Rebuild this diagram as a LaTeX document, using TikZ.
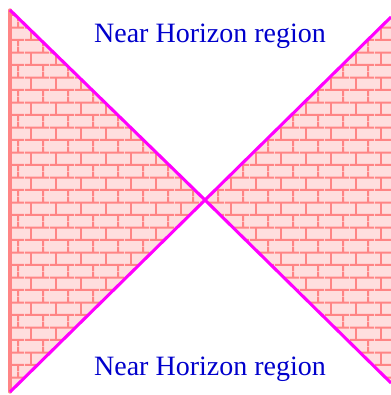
\documentclass[tikz,border=0pt]{standalone}
\usepackage{fontspec}
\setmainfont{Liberation Serif}
\usepackage{xcolor}
\usetikzlibrary{patterns}
\definecolor{brickfill}{HTML}{FFDEDE}
\definecolor{brickline}{HTML}{FF8585}
\definecolor{horizon}{HTML}{FF00FF}
\definecolor{labelblue}{HTML}{0000CC}
% brick wall, 18.75pt x 9.45pt bricks, half offset
\pgfdeclarepatternformonly{wallbricks}{\pgfpointorigin}{\pgfpoint{18.75pt}{18.9pt}}{\pgfpoint{18.75pt}{18.9pt}}
{
	\pgfsetlinewidth{1.4pt}
	\pgfpathmoveto{\pgfpoint{0pt}{4.725pt}}
	\pgfpathlineto{\pgfpoint{18.75pt}{4.725pt}}
	\pgfpathmoveto{\pgfpoint{0pt}{14.175pt}}
	\pgfpathlineto{\pgfpoint{18.75pt}{14.175pt}}
	\pgfpathmoveto{\pgfpoint{4.6875pt}{4.725pt}}
	\pgfpathlineto{\pgfpoint{4.6875pt}{14.175pt}}
	\pgfpathmoveto{\pgfpoint{14.0625pt}{14.175pt}}
	\pgfpathlineto{\pgfpoint{14.0625pt}{18.9pt}}
	\pgfpathmoveto{\pgfpoint{14.0625pt}{0pt}}
	\pgfpathlineto{\pgfpoint{14.0625pt}{4.725pt}}
	\pgfusepath{stroke}
}
\tikzset{
	wall/.style={fill=brickfill, pattern=wallbricks, pattern color=brickline},
	horizonline/.style={draw=horizon, line width=2.3pt},
	regionlabel/.style={text=labelblue, font=\fontsize{21}{24}\selectfont}
}

\begin{document}
\begin{tikzpicture}[x=0.75pt,y=0.75pt]
	\useasboundingbox (0,0) rectangle (391,395);
	\coordinate (topleft) at (10,385);
	\coordinate (botleft) at (10,3);
	\coordinate (mid) at (205,195);
	\coordinate (topright) at (391,378);
	\coordinate (botright) at (391,12);
	% walls
	\fill[brickfill] (topleft) -- (mid) -- (botleft) -- cycle;
	\fill[brickfill] (mid) -- (topright) -- (botright) -- cycle;
	\fill[wall] (topleft) -- (mid) -- (botleft) -- cycle;
	\fill[wall] (mid) -- (topright) -- (botright) -- cycle;
	\draw [brickline, line width=2.5pt, line cap=round] (topleft) -- (botleft);
	% horizons
	\draw [horizonline] (topleft) -- (mid) -- (botright);
	\draw [horizonline] (botleft) -- (mid) -- (topright);
	\node[regionlabel] (upper) at (210,359) {Near Horizon region};
	\node[regionlabel] (lower) at (210,26) {Near Horizon region};
\end{tikzpicture}
\end{document}
